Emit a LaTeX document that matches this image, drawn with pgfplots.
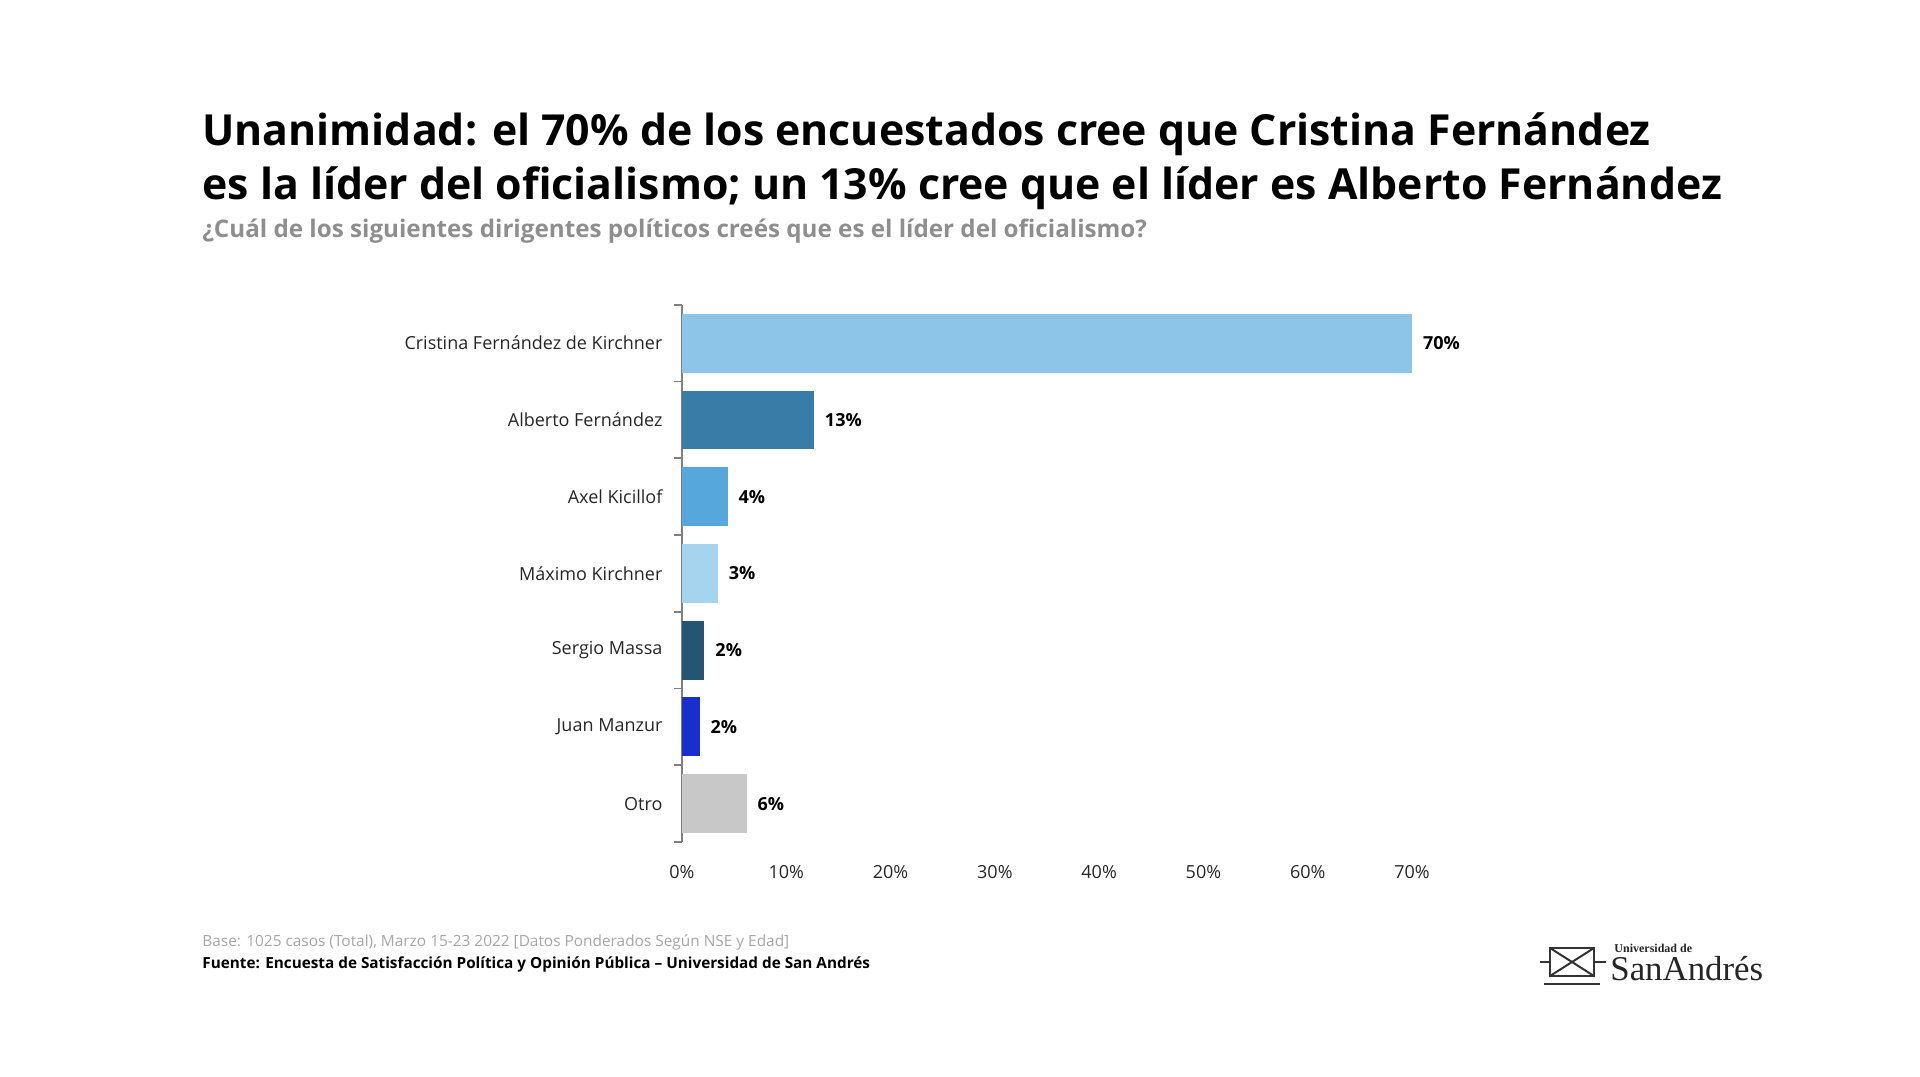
\documentclass[border=0pt]{standalone}
\usepackage{fontspec}
\setmainfont{Open Sans}
\newfontfamily\logofont{Liberation Serif}
\usepackage{pgfplots}
\pgfplotsset{compat=1.18}
\definecolor{cCFK}{HTML}{8DC5E8}
\definecolor{cAF}{HTML}{3A7CA8}
\definecolor{cAK}{HTML}{56A8DC}
\definecolor{cMK}{HTML}{A6D3EE}
\definecolor{cSM}{HTML}{245572}
\definecolor{cJM}{HTML}{1A2ECC}
\definecolor{cOT}{HTML}{C8C8C8}
\definecolor{axgray}{HTML}{808080}
\definecolor{subgray}{HTML}{8E8E8E}
\definecolor{footgray}{HTML}{A6A6A6}
\definecolor{txt}{HTML}{262626}
\begin{document}
\begin{tikzpicture}[x=1pt,y=1pt]
\path[use as bounding box] (0,0) rectangle (960,538);
\node[anchor=base west,inner sep=0,text=black] at (101,465) {\fontsize{21.4}{24}\selectfont\bfseries Unanimidad: el 70\% de los encuestados cree que Cristina Fernández};
\node[anchor=base west,inner sep=0,text=black] at (101,438) {\fontsize{21.4}{24}\selectfont\bfseries es la líder del oficialismo; un 13\% cree que el líder es Alberto Fernández};
\node[anchor=base west,inner sep=0,text=subgray] at (101,419) {\fontsize{12.1}{14}\selectfont\bfseries ¿Cuál de los siguientes dirigentes políticos creés que es el líder del oficialismo?};
\node[anchor=base west,inner sep=0,text=footgray] at (101,65) {\fontsize{7.7}{9}\selectfont Base: 1025 casos (Total), Marzo 15-23 2022 [Datos Ponderados Según NSE y Edad]};
\node[anchor=base west,inner sep=0,text=black] at (101,54) {\fontsize{7.65}{9}\selectfont\bfseries Fuente: Encuesta de Satisfacción Política y Opinión Pública – Universidad de San Andrés};
% logo
\begin{scope}[draw=black!80,line width=1pt]
\draw (775,50) rectangle (797,64);
\draw (775,50) -- (797,64) (775,64) -- (797,50);
\draw (770,57) -- (775,57) (797,57) -- (803,57);
\draw (772,46) -- (800,46);
\end{scope}
\node[anchor=base west,inner sep=0,text=black!85] at (807,62) {\logofont\fontsize{6}{7}\selectfont\bfseries Universidad de};
\node[anchor=base west,inner sep=0,text=black!85] at (805,48) {\logofont\fontsize{17.4}{18}\selectfont SanAndrés};
\begin{axis}[
  at={(341pt,117pt)}, anchor=south west,
  scale only axis, width=365pt, height=268.6pt,
  xmin=0, xmax=70, ymin=-0.5, ymax=6.5,
  xbar, bar width=29.4pt, bar shift=0pt,
  clip=false,
  axis x line*=bottom, axis y line*=left,
  x axis line style={draw=none},
  y axis line style={draw=axgray,line width=0.8pt},
  /pgf/number format/assume math mode=true,
  xtick={0,10,...,70},
  xticklabel={\pgfmathprintnumber{\tick}\%},
  x tick style={draw=none},
  xticklabel style={font=\fontsize{9}{10}\selectfont, text=txt, yshift=-4pt},
  ytick={0,...,6},
  yticklabels={Otro,Juan Manzur,Sergio Massa,Máximo Kirchner,Axel Kicillof,Alberto Fernández,Cristina Fernández de Kirchner},
  yticklabel style={font=\fontsize{9}{10}\selectfont, text=txt, xshift=-2pt},
  major y tick style={draw=none},
  minor ytick={-0.5,0.5,...,6.5},
  minor y tick style={draw=axgray,line width=0.8pt},
  minor tick length=4pt,
  tick align=outside,
  nodes near coords,
  point meta=explicit symbolic,
  nodes near coords style={font=\fontsize{9}{10}\selectfont\bfseries, text=black, anchor=west, xshift=2pt},
]
\addplot[fill=cCFK,draw=none] coordinates {(70,6) [70\%]};
\addplot[fill=cAF,draw=none] coordinates {(12.65,5) [13\%]};
\addplot[fill=cAK,draw=none] coordinates {(4.37,4) [4\%]};
\addplot[fill=cMK,draw=none] coordinates {(3.43,3) [3\%]};
\addplot[fill=cSM,draw=none] coordinates {(2.15,2) [2\%]};
\addplot[fill=cJM,draw=none] coordinates {(1.68,1) [2\%]};
\addplot[fill=cOT,draw=none] coordinates {(6.19,0) [6\%]};
\end{axis}
\end{tikzpicture}
\end{document}
